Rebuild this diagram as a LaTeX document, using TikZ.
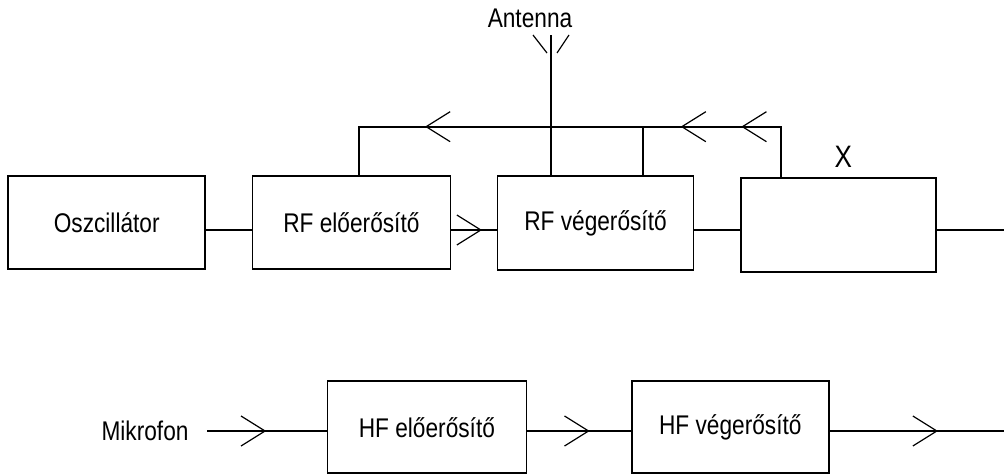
\documentclass[tikz,border=0pt]{standalone}
\usepackage{fontspec}
\setmainfont{Liberation Sans}[FakeStretch=0.84]
\usetikzlibrary{decorations.markings}
\begin{document}
\begin{tikzpicture}[x=1pt, y=-1pt, line width=1.7pt,
  txt/.style={font=\fontsize{27}{30}\selectfont},
  block/.style={draw, txt, minimum width=197pt, minimum height=93pt, inner sep=0pt},
  lbl/.style={txt, inner sep=0pt},
  barbline/.style={line width=1.2pt},
  barb/.style={postaction={decorate, decoration={markings,
      mark=at position #1 with {\draw[barbline] (-24pt,15pt) -- (0pt,0pt) -- (-24pt,-15pt);}}}}
]
\useasboundingbox (0,0) rectangle (1004,476);

% transmitter chain
\node[block] (osc) at (106.7,222.8) {Oszcillátor};
\node[block, minimum width=198pt] (rfpre) at (351.4,222.8) {RF előerősítő};
\node[block, minimum width=196pt, minimum height=94pt] (rfend) at (595.5,223) {RF végerősítő};
\node[block, minimum width=195pt, minimum height=94pt] (xbox) at (838.4,224.8) {};
\node[lbl, font=\fontsize{31}{34}\selectfont] (xlbl) at (843.3,157) {X};
\node[lbl] (ant) at (530,18) {Antenna};

% audio chain
\node[lbl, inner xsep=17.7pt] (mic) at (145,431) {Mikrofon};
\node[block, minimum width=199pt, minimum height=92pt] (hfpre) at (426.9,427.2) {HF előerősítő};
\node[block, minimum width=197pt, minimum height=92pt] (hfend) at (730.3,427.2) {HF végerősítő};

% helper coordinates
\coordinate (rowA) at (0,230);
\coordinate (rowB) at (0,431);
\coordinate (bus) at (0,126.7);
\coordinate (tapA) at (359.3,0);
\coordinate (mast) at (551,0);
\coordinate (tapC) at (643.3,0);
\coordinate (tapX) at (781.3,0);
\coordinate (mastTop) at (551,35);
\coordinate (outA) at (1004,230);
\coordinate (outB) at (1004,431);

% RF signal path
\draw (osc.east |- rowA) -- (rfpre.west |- rowA);
\draw[barb=29.6pt] (rfpre.east |- rowA) -- (rfend.west |- rowA);
\draw (rfend.east |- rowA) -- (xbox.west |- rowA);
\draw (xbox.east |- rowA) -- (outA);

% feedback bus
\draw[barb=89.1pt, barb=149.7pt, barb=405.4pt]
  (xbox.north -| tapX) |- (bus -| tapA) -- (rfpre.north -| tapA);
\draw (rfend.north -| tapC) -- (bus -| tapC);

% antenna mast
\draw (rfend.north -| mast) -- (mastTop);
\draw[barbline] (mastTop) ++(-18,0) -- ++(14,18);
\draw[barbline] (mastTop) ++(18,0) -- ++(-12,18);

% audio signal path
\draw[barb=58pt] (mic.east) -- (hfpre.west |- rowB);
\draw[barb=61.3pt] (hfpre.east |- rowB) -- (hfend.west |- rowB);
\draw[barb=107.2pt] (hfend.east |- rowB) -- (outB);
\end{tikzpicture}
\end{document}
